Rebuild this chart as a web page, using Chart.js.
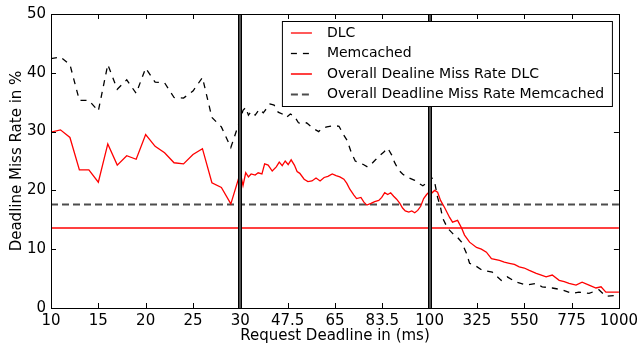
<!DOCTYPE html>
<html>
<head>
<meta charset="utf-8">
<script src="https://cdn.jsdelivr.net/npm/chart.js@4/dist/chart.umd.min.js"></script>
<style>
html, body { margin: 0; padding: 0; background: #fff; }
canvas { display: block; }
</style>
</head>
<body>
<canvas id="chart" width="642" height="347"></canvas>
<script>
// tick labels of the three joined panels (10-30, 30-100, 100-1000 ms)
var tickLabels = ['10', '15', '20', '25', '30', '47.5', '65', '83.5', '100', '325', '550', '775', '1000']
var segmentBreaks = [10, 30, 100, 1000]

// DLC miss rate per request deadline (ms)
var dlcMs = [10, 11, 12, 13, 14, 15, 16, 17, 18, 19, 20, 21, 22, 23, 24, 25, 26, 27, 28, 29,
    30, 31, 32, 33, 34, 35.5, 36.6, 38, 39, 40.3, 41.8, 43.3, 44.4, 45.5, 46.6, 47.7, 48.8, 50, 51, 52,
    53.6, 55, 56.5, 58, 59.5, 61, 62.4, 64, 65.4, 66.8, 68.3, 69.4, 70.5, 72, 73, 74.6, 75.7, 76.8, 78.3, 79.7,
    81.2, 82.3, 83.4, 84.5, 85.6, 86.7, 87.8, 89, 90, 91, 92.3, 93.4, 94.5, 95.6, 96.7, 97.8, 98.9,
    100, 109, 124, 138, 152, 171, 195, 209, 233, 252, 266, 290, 323, 346, 370, 394, 432, 455, 479, 503,
    526, 550, 574, 607, 631, 654, 683, 716, 740, 763, 796, 825, 858, 891, 915, 938, 967, 1000]
var dlcRate = [29.9, 30.3, 29, 23.5, 23.5, 21.4, 27.9, 24.3, 25.9, 25.3, 29.5, 27.5, 26.4, 24.7, 24.5, 26.1, 27.1, 21.3, 20.5, 17.7,
    23, 20.8, 23, 22.3, 22.8, 22.6, 23, 22.8, 24.5, 24.3, 23.3, 24, 24.8, 24.2, 25, 24.4, 25.2, 24.3, 23.2, 22.9,
    21.9, 21.5, 21.6, 22.1, 21.6, 22.2, 22.4, 22.8, 22.5, 22.3, 21.9, 21.2, 20.2, 19.2, 18.6, 18.8, 18, 17.5, 17.8, 18.1,
    18.3, 18.8, 19.6, 19.3, 19.6, 19, 18.5, 17.8, 17, 16.5, 16.3, 16.5, 16.2, 16.6, 17.3, 18.6, 19.3,
    19.8, 19.5, 20, 19.7, 18.3, 17.1, 15.4, 14.6, 14.9, 13.6, 12.4, 11.2, 10.3, 10, 9.5, 8.4, 8.1, 7.8, 7.6, 7.4,
    7, 6.8, 6.4, 5.9, 5.6, 5.3, 5.6, 4.7, 4.5, 4.2, 3.9, 4.4, 3.9, 3.4, 3.6, 2.7, 2.7, 2.7]

// Memcached miss rate per request deadline (ms)
var memMs = [10, 11, 12, 13, 14, 15, 16, 17, 18, 19, 20, 21, 22, 23, 24, 25, 26, 27, 28, 29,
    30, 31, 32, 33, 34, 35.5, 37, 38.5, 39.5, 41, 42.5, 44, 45.5, 47, 48.5, 50, 51.5, 53, 54.5, 56,
    57.5, 59, 60, 62, 63, 65, 66.5, 68, 69.5, 71, 72.5, 74, 75.5, 77, 78.5, 80, 81.5, 83, 84.5, 86,
    87, 88.5, 90, 91.5, 93, 94.5, 96, 97.5, 99,
    100, 109, 124, 138, 152, 162, 185, 209, 233, 252, 275, 290, 313, 351, 398, 441, 469, 512, 560, 607,
    635, 683, 730, 777, 810, 858, 905, 938, 1000]
var memRate = [42.4, 42.7, 41.4, 35.3, 35.3, 33.5, 41.4, 37.2, 38.8, 36.5, 40.8, 38.4, 38.3, 35.8, 35.7, 36.9, 39.2, 32.4, 30.8, 27.3,
    32.1, 33.6, 34.1, 32.8, 33.4, 32.8, 33.8, 33.2, 33.8, 34.7, 34.5, 33.3, 33, 32.4, 33, 32.6, 31.5, 31.3, 31.5, 30.9,
    30.4, 30, 30.5, 30.8, 30.9, 31, 30.9, 29.6, 28.5, 26.5, 25, 24.7, 24.4, 24, 24.5, 25.2, 25.9, 26.5, 27.2, 26,
    24.8, 23.5, 22.8, 22.3, 22, 21.7, 21.2, 20.8, 21.3,
    22.2, 22.2, 21.4, 18.8, 17.1, 15.3, 13.6, 12.7, 12, 11.2, 9.3, 7.6, 7.3, 6.4, 6.1, 4.7, 5.3, 4.4, 3.9, 4.2,
    3.6, 3.4, 3.1, 2.5, 2.7, 2.5, 3.1, 2, 2.2]

var overallDlc = 13.6
var overallMem = 17.6

var seriesNames = ['DLC', 'Memcached', 'Overall Dealine Miss Rate DLC', 'Overall Deadline Miss Rate Memcached']

// piecewise position: each panel spans 4 tick steps
function pos(ms) {
    for (var s = 0; s < 3; s++) {
        var a = segmentBreaks[s], b = segmentBreaks[s + 1]
        if (ms <= b || s == 2) return s * 4 + (ms - a) / (b - a) * 4
    }
}

function points(xs, ys) {
    var out = []
    for (var i = 0; i < xs.length; i++) out.push({ x: pos(xs[i]), y: ys[i] })
    return out
}

var panelEdges = [pos(30), pos(100)]

var framePlugin = {
    id: 'frame',
    afterDatasetsDraw: function (chart) {
        var ctx = chart.ctx, a = chart.chartArea
        var xs = chart.scales.x, ys = chart.scales.y
        ctx.save()
        // inward ticks
        ctx.strokeStyle = '#000'
        ctx.lineWidth = 1
        ctx.beginPath()
        xs.ticks.forEach(function (t) {
            var px = Math.round(xs.getPixelForValue(t.value)) + 0.5
            ctx.moveTo(px, a.bottom); ctx.lineTo(px, a.bottom - 5)
            ctx.moveTo(px, a.top); ctx.lineTo(px, a.top + 5)
        })
        ys.ticks.forEach(function (t) {
            var py = Math.round(ys.getPixelForValue(t.value)) + 0.5
            ctx.moveTo(a.left, py); ctx.lineTo(a.left + 5, py)
            ctx.moveTo(a.right, py); ctx.lineTo(a.right - 5, py)
        })
        ctx.stroke()
        // panel separators (double spines)
        panelEdges.forEach(function (v) {
            var px = Math.round(xs.getPixelForValue(v))
            ctx.fillStyle = '#666'
            ctx.fillRect(px - 2, a.top, 4, a.bottom - a.top)
            ctx.fillStyle = '#000'
            ctx.fillRect(px - 2, a.top, 1.2, a.bottom - a.top)
            ctx.fillRect(px + 0.8, a.top, 1.2, a.bottom - a.top)
        })
        ctx.strokeRect(Math.round(a.left) + 0.5, Math.round(a.top) + 0.5,
            Math.round(a.right - a.left), Math.round(a.bottom - a.top))
        // legend box
        var lx = a.right - 337, ly = a.top + 7, lw = 330, lh = 85
        ctx.fillStyle = '#fff'
        ctx.fillRect(lx, ly, lw, lh)
        ctx.strokeStyle = '#000'
        ctx.lineWidth = 1
        ctx.strokeRect(lx + 0.5, ly + 0.5, lw, lh)
        ctx.font = '14px "DejaVu Sans"'
        ctx.textBaseline = 'middle'
        chart.data.datasets.forEach(function (ds, i) {
            var y = ly + 12 + i * 20.5
            ctx.beginPath()
            ctx.strokeStyle = ds.borderColor
            ctx.lineWidth = ds.borderWidth
            ctx.setLineDash(ds.borderDash || [])
            ctx.moveTo(lx + 9, y); ctx.lineTo(lx + 30, y)
            ctx.stroke()
            ctx.setLineDash([])
            ctx.fillStyle = '#000'
            ctx.fillText(ds.label, lx + 45, y)
        })
        ctx.restore()
    }
}

Chart.defaults.font.family = '"DejaVu Sans", sans-serif'
Chart.defaults.color = '#000'

var ctx = document.getElementById('chart').getContext('2d')
var myChart = new Chart(ctx, {
    type: 'line',
    data: {
        datasets: [{
            label: seriesNames[0],
            data: points(dlcMs, dlcRate),
            borderColor: '#ff0000',
            borderWidth: 1.3
        }, {
            label: seriesNames[1],
            data: points(memMs, memRate),
            borderColor: '#000',
            borderWidth: 1.3,
            borderDash: [6, 6]
        }, {
            label: seriesNames[2],
            data: [{ x: 0, y: overallDlc }, { x: 12, y: overallDlc }],
            borderColor: 'rgba(255,0,0,0.75)',
            borderWidth: 2
        }, {
            label: seriesNames[3],
            data: [{ x: 0, y: overallMem }, { x: 12, y: overallMem }],
            borderColor: 'rgba(0,0,0,0.7)',
            borderWidth: 2,
            borderDash: [7, 4]
        }]
    },
    options: {
        responsive: false,
        animation: false,
        devicePixelRatio: 1,
        elements: { point: { radius: 0 }, line: { tension: 0 } },
        layout: { padding: { top: 13, right: 19, left: 2, bottom: 0 } },
        plugins: { legend: { display: false }, tooltip: { enabled: false } },
        scales: {
            x: {
                type: 'linear',
                min: 0,
                max: 12,
                afterFit: function (s) { s.height = 39 },
                grid: { display: false, drawTicks: false },
                border: { display: false },
                ticks: {
                    stepSize: 1,
                    autoSkip: false,
                    maxRotation: 0,
                    padding: 4,
                    font: { size: 15 },
                    callback: function (v) { return tickLabels[v] }
                },
                title: { display: true, text: 'Request Deadline in (ms)', font: { size: 15 }, padding: { top: 0, bottom: 2 } }
            },
            y: {
                min: 0,
                max: 50,
                afterFit: function (s) { s.width = 49 },
                grid: { display: false, drawTicks: false },
                border: { display: false },
                ticks: { stepSize: 10, padding: 5, font: { size: 15 } },
                title: { display: true, text: 'Deadline Miss Rate in %', font: { size: 15 }, padding: { top: 6, bottom: 0 } }
            }
        }
    },
    plugins: [framePlugin]
})
</script>
</body>
</html>
